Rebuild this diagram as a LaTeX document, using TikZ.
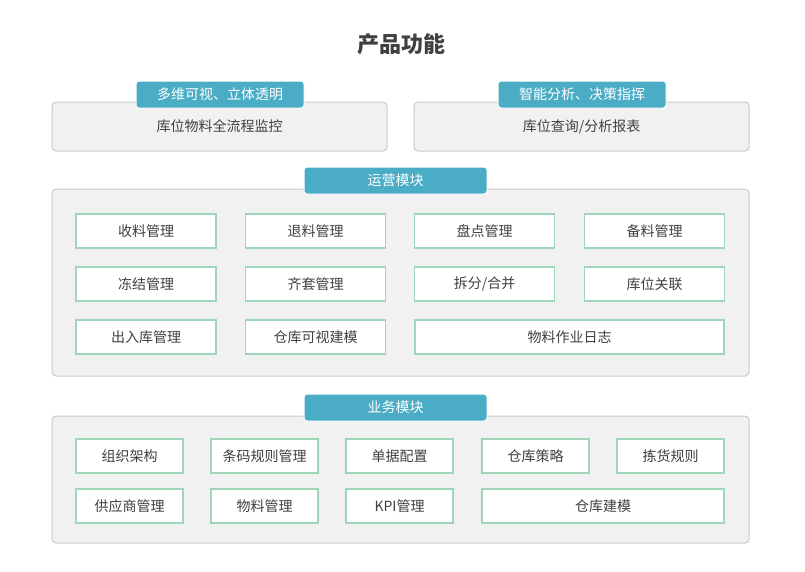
\documentclass[tikz,border=0pt]{standalone}
\usepackage{fontspec}
\setmainfont{Noto Sans CJK SC}
\definecolor{tabblue}{HTML}{4BACC6}
\definecolor{panelgray}{HTML}{F1F1F1}
\definecolor{panelline}{HTML}{CACACA}
\definecolor{itemgreen}{HTML}{9FD5B8}
\definecolor{txtgray}{HTML}{404040}
\tikzset{
    panel/.style={draw=panelline, fill=panelgray, line width=1pt, rounded corners=4pt, inner sep=0pt},
    tab/.style={draw=white, fill=tabblue, line width=1pt, rounded corners=3pt, text=white,
        minimum width=168pt, minimum height=27pt, inner sep=0pt, font=\fontsize{14}{16}\selectfont},
    item/.style={draw=itemgreen, fill=white, line width=1.8pt, minimum height=34pt, inner sep=0pt,
        text=txtgray, font=\fontsize{14}{16}\selectfont}
}
\begin{document}
\begin{tikzpicture}[x=1pt,y=-1pt]
                    \useasboundingbox (0,0) rectangle (805,571);
                    \node[font=\fontsize{22}{26}\selectfont\bfseries, text=txtgray] (title) at (401,44) {产品功能};
                    % top two panels
                    \node[panel, minimum width=335pt, minimum height=49pt, text=txtgray, font=\fontsize{14}{16}\selectfont] (left) at (219.5,126.5) {库位物料全流程监控};
                    \node[panel, minimum width=335pt, minimum height=49pt, text=txtgray, font=\fontsize{14}{16}\selectfont] (right) at (581.5,126.5) {库位查询/分析报表};
                    \node[tab] (lefttab) at (220,94.5) {多维可视、立体透明};
                    \node[tab] (righttab) at (582,94.5) {智能分析、决策指挥};
                    % operations
                    \node[panel, minimum width=697pt, minimum height=187pt] (ops) at (400.5,282.5) {};
                    \node[tab, minimum width=183pt] (opstab) at (395.5,180.5) {运营模块};
                    \node[item, minimum width=140pt] (shouliao) at (146,231) {收料管理};
                    \node[item, minimum width=140pt] (tuiliao) at (315.5,231) {退料管理};
                    \node[item, minimum width=140pt] (pandian) at (484.5,231) {盘点管理};
                    \node[item, minimum width=140pt] (beiliao) at (654.5,231) {备料管理};
                    \node[item, minimum width=140pt] (dongjie) at (146,284) {冻结管理};
                    \node[item, minimum width=140pt] (qitao) at (315.5,284) {齐套管理};
                    \node[item, minimum width=140pt] (chaifen) at (484.5,284) {拆分/合并};
                    \node[item, minimum width=140pt] (guanlian) at (654.5,284) {库位关联};
                    \node[item, minimum width=140pt] (churuku) at (146,337) {出入库管理};
                    \node[item, minimum width=140pt] (keshi) at (315.5,337) {仓库可视建模};
                    \node[item, minimum width=309pt] (rizhi) at (569.5,337) {物料作业日志};
                    % business
                    \node[panel, minimum width=697pt, minimum height=127pt] (biz) at (400.5,479.5) {};
                    \node[tab, minimum width=183pt] (biztab) at (395.5,407.5) {业务模块};
                    \node[item, minimum width=107pt] (zuzhi) at (129.5,456) {组织架构};
                    \node[item, minimum width=107pt] (tiaoma) at (264.5,456) {条码规则管理};
                    \node[item, minimum width=107pt] (danju) at (399.5,456) {单据配置};
                    \node[item, minimum width=107pt] (celue) at (535.5,456) {仓库策略};
                    \node[item, minimum width=107pt] (jianhuo) at (670.5,456) {拣货规则};
                    \node[item, minimum width=107pt] (gongying) at (129.5,506) {供应商管理};
                    \node[item, minimum width=107pt] (wuliao) at (264.5,506) {物料管理};
                    \node[item, minimum width=107pt] (kpi) at (399.5,506) {KPI管理};
                    \node[item, minimum width=242pt] (jianmo) at (603,506) {仓库建模};
                \end{tikzpicture}
\end{document}
